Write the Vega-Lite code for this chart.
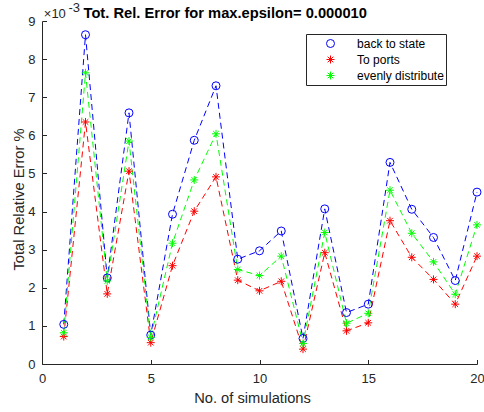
{
  "$schema": "https://vega.github.io/schema/vega-lite/v6.json",
  "width": 435,
  "height": 343,
  "autosize": {"type": "none"},
  "padding": {"left": 42, "top": 21, "right": 7, "bottom": 48},
  "background": "white",
  "config": {"font": "Liberation Sans", "view": {"stroke": null}},
  "resolve": {"axis": {"x": "independent"}},
  "data": {"values": [
    {"n": 1, "series": "back to state", "err": 0.00104},
    {"n": 2, "series": "back to state", "err": 0.00864},
    {"n": 3, "series": "back to state", "err": 0.00226},
    {"n": 4, "series": "back to state", "err": 0.00659},
    {"n": 5, "series": "back to state", "err": 0.00076},
    {"n": 6, "series": "back to state", "err": 0.00393},
    {"n": 7, "series": "back to state", "err": 0.00587},
    {"n": 8, "series": "back to state", "err": 0.00730},
    {"n": 9, "series": "back to state", "err": 0.00275},
    {"n": 10, "series": "back to state", "err": 0.00297},
    {"n": 11, "series": "back to state", "err": 0.00349},
    {"n": 12, "series": "back to state", "err": 0.00067},
    {"n": 13, "series": "back to state", "err": 0.00407},
    {"n": 14, "series": "back to state", "err": 0.00135},
    {"n": 15, "series": "back to state", "err": 0.00157},
    {"n": 16, "series": "back to state", "err": 0.00529},
    {"n": 17, "series": "back to state", "err": 0.00406},
    {"n": 18, "series": "back to state", "err": 0.00332},
    {"n": 19, "series": "back to state", "err": 0.00219},
    {"n": 20, "series": "back to state", "err": 0.00451},
    {"n": 1, "series": "To ports", "err": 0.00072},
    {"n": 2, "series": "To ports", "err": 0.00635},
    {"n": 3, "series": "To ports", "err": 0.00184},
    {"n": 4, "series": "To ports", "err": 0.00506},
    {"n": 5, "series": "To ports", "err": 0.00056},
    {"n": 6, "series": "To ports", "err": 0.00258},
    {"n": 7, "series": "To ports", "err": 0.00401},
    {"n": 8, "series": "To ports", "err": 0.00491},
    {"n": 9, "series": "To ports", "err": 0.00220},
    {"n": 10, "series": "To ports", "err": 0.00192},
    {"n": 11, "series": "To ports", "err": 0.00217},
    {"n": 12, "series": "To ports", "err": 0.00039},
    {"n": 13, "series": "To ports", "err": 0.00292},
    {"n": 14, "series": "To ports", "err": 0.00087},
    {"n": 15, "series": "To ports", "err": 0.00108},
    {"n": 16, "series": "To ports", "err": 0.00376},
    {"n": 17, "series": "To ports", "err": 0.00280},
    {"n": 18, "series": "To ports", "err": 0.00222},
    {"n": 19, "series": "To ports", "err": 0.00157},
    {"n": 20, "series": "To ports", "err": 0.00283},
    {"n": 1, "series": "evenly distribute", "err": 0.00082},
    {"n": 2, "series": "evenly distribute", "err": 0.00764},
    {"n": 3, "series": "evenly distribute", "err": 0.00218},
    {"n": 4, "series": "evenly distribute", "err": 0.00585},
    {"n": 5, "series": "evenly distribute", "err": 0.00070},
    {"n": 6, "series": "evenly distribute", "err": 0.00317},
    {"n": 7, "series": "evenly distribute", "err": 0.00483},
    {"n": 8, "series": "evenly distribute", "err": 0.00604},
    {"n": 9, "series": "evenly distribute", "err": 0.00248},
    {"n": 10, "series": "evenly distribute", "err": 0.00232},
    {"n": 11, "series": "evenly distribute", "err": 0.00283},
    {"n": 12, "series": "evenly distribute", "err": 0.00054},
    {"n": 13, "series": "evenly distribute", "err": 0.00345},
    {"n": 14, "series": "evenly distribute", "err": 0.00107},
    {"n": 15, "series": "evenly distribute", "err": 0.00133},
    {"n": 16, "series": "evenly distribute", "err": 0.00456},
    {"n": 17, "series": "evenly distribute", "err": 0.00343},
    {"n": 18, "series": "evenly distribute", "err": 0.00268},
    {"n": 19, "series": "evenly distribute", "err": 0.00183},
    {"n": 20, "series": "evenly distribute", "err": 0.00365}
  ]},
  "encoding": {
    "y": {"field": "err", "type": "quantitative", "scale": {"domain": [0, 0.009], "nice": false},
      "axis": {"title": "Total Relative Error %", "values": [0, 0.001, 0.002, 0.003, 0.004, 0.005, 0.006, 0.007, 0.008, 0.009],
        "labelExpr": "format(round(datum.value*1000),'d')", "grid": false,
        "tickSize": -4.5, "labelPadding": 11.5, "labelFontSize": 13, "labelColor": "#262626",
        "labelFlush": false, "labelOverlap": false, "domainColor": "#262626", "tickColor": "#262626",
        "titleFontSize": 14.7, "titleFontWeight": "normal", "titleColor": "#262626",
        "titleX": -19, "titleY": 178, "titleAngle": -90, "titleBaseline": "alphabetic", "titleAlign": "center"}}
  },
  "layer": [
    {"mark": {"type": "line", "strokeDash": [6, 4], "strokeWidth": 1},
      "encoding": {
        "x": {"field": "n", "type": "quantitative", "scale": {"domain": [0, 20], "nice": false},
          "axis": {"orient": "bottom", "title": "No. of simulations", "values": [0, 5, 10, 15, 20], "format": "d", "grid": false,
            "tickSize": -4.5, "labelPadding": 23.2, "labelBaseline": "alphabetic", "labelFontSize": 13, "labelColor": "#262626",
            "labelFlush": false, "labelOverlap": false, "domainColor": "#262626", "tickColor": "#262626",
            "titleFontSize": 14.7, "titleFontWeight": "normal", "titleColor": "#262626",
            "titleX": 210, "titleY": 38, "titleBaseline": "alphabetic", "titleAlign": "center"}},
        "color": {"field": "series", "type": "nominal",
          "scale": {"domain": ["back to state", "To ports", "evenly distribute"], "range": ["#0000ff", "#ff0000", "#00ff00"]},
          "legend": {"title": null, "orient": "none", "legendX": 264, "legendY": 13, "padding": 2,
            "strokeColor": "#262626", "fillColor": "white", "labelFontSize": 12, "labelColor": "#000000", "labelFont": "Liberation Sans",
            "symbolSize": 64, "symbolStrokeWidth": 1, "symbolOffset": 16.5, "labelOffset": 20.6, "clipHeight": 15, "rowPadding": 1}}}},
    {"mark": {"type": "point", "filled": false, "size": 64, "strokeWidth": 1, "opacity": 1},
      "encoding": {
        "x": {"field": "n", "type": "quantitative", "axis": null},
        "color": {"field": "series", "type": "nominal",
          "scale": {"domain": ["back to state", "To ports", "evenly distribute"], "range": ["#0000ff", "#ff0000", "#00ff00"]},
          "legend": {"title": null, "orient": "none", "legendX": 264, "legendY": 13, "padding": 2,
            "strokeColor": "#262626", "fillColor": "white", "labelFontSize": 12, "labelColor": "#000000", "labelFont": "Liberation Sans",
            "symbolSize": 64, "symbolStrokeWidth": 1, "symbolOffset": 16.5, "labelOffset": 20.6, "clipHeight": 15, "rowPadding": 1}},
        "shape": {"field": "series", "type": "nominal",
          "scale": {"domain": ["back to state", "To ports", "evenly distribute"],
            "range": ["circle", "M-1,0L1,0M0,-1L0,1M-0.7,-0.7L0.7,0.7M-0.7,0.7L0.7,-0.7", "M-1,0L1,0M0,-1L0,1M-0.7,-0.7L0.7,0.7M-0.7,0.7L0.7,-0.7"]},
          "legend": null}}},
    {"mark": {"type": "rule", "strokeOpacity": 0},
      "encoding": {"y": {"datum": 0.001}, "y2": {"datum": 0.001},
        "x": {"datum": 1, "type": "quantitative",
          "axis": {"orient": "top", "title": "×10", "titleAngle": 0, "titleX": 1.3, "titleY": -3.7, "titleBaseline": "alphabetic", "titleAlign": "left",
            "titleFontSize": 13, "titleFontWeight": "normal", "titleColor": "#262626", "titleFont": "Liberation Sans",
            "labels": false, "ticks": false, "domain": false, "grid": false}}}},
    {"mark": {"type": "rule", "strokeOpacity": 0},
      "encoding": {"y": {"datum": 0.001}, "y2": {"datum": 0.001},
        "x": {"datum": 1, "type": "quantitative",
          "axis": {"orient": "top", "title": "-3", "titleAngle": 0, "titleX": 26, "titleY": -9.3, "titleBaseline": "alphabetic", "titleAlign": "left",
            "titleFontSize": 13, "titleFontWeight": "normal", "titleColor": "#262626", "titleFont": "Liberation Sans",
            "labels": false, "ticks": false, "domain": false, "grid": false}}}},
    {"mark": {"type": "rule", "strokeOpacity": 0},
      "encoding": {"y": {"datum": 0.001}, "y2": {"datum": 0.001},
        "x": {"datum": 1, "type": "quantitative",
          "axis": {"orient": "top", "title": "Tot. Rel. Error for max.epsilon= 0.000010", "titleAngle": 0, "titleX": 41, "titleY": -3.7, "titleBaseline": "alphabetic", "titleAlign": "left",
            "titleFontSize": 14.7, "titleFontWeight": "bold", "titleColor": "#000000", "titleFont": "Liberation Sans",
            "labels": false, "ticks": false, "domain": false, "grid": false}}}}
  ]
}
